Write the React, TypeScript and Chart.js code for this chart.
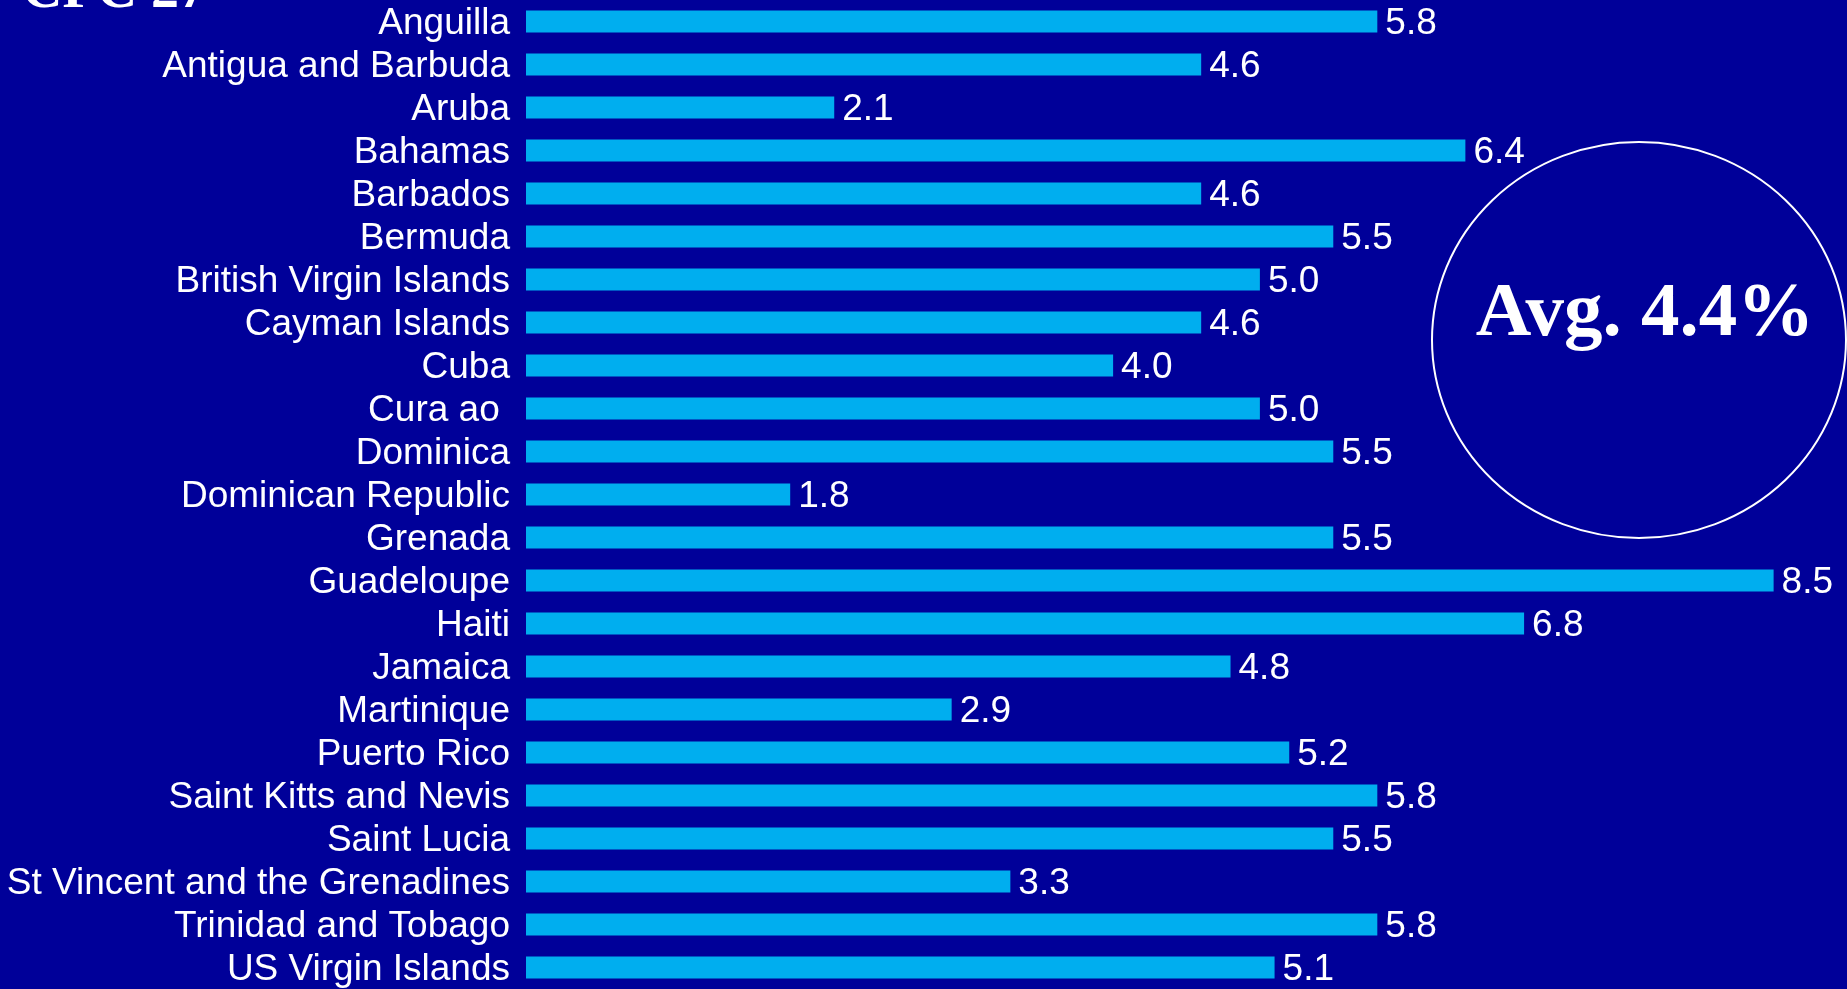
import React, { useEffect, useRef } from "react";
import { Chart, registerables } from "chart.js";

Chart.register(...registerables);

const countries = [
  "Anguilla",
  "Antigua and Barbuda",
  "Aruba",
  "Bahamas",
  "Barbados",
  "Bermuda",
  "British Virgin Islands",
  "Cayman Islands",
  "Cuba",
  "Cura ao ",
  "Dominica",
  "Dominican Republic",
  "Grenada",
  "Guadeloupe",
  "Haiti",
  "Jamaica",
  "Martinique",
  "Puerto Rico",
  "Saint Kitts and Nevis",
  "Saint Lucia",
  "St Vincent and the Grenadines",
  "Trinidad and Tobago",
  "US Virgin Islands",
];

const values = [5.8, 4.6, 2.1, 6.4, 4.6, 5.5, 5.0, 4.6, 4.0, 5.0, 5.5, 1.8, 5.5, 8.5, 6.8, 4.8, 2.9, 5.2, 5.8, 5.5, 3.3, 5.8, 5.1];

const titleText = "CPC 27";
const avgText = "Avg. 4.4%";

const BG = "#000099";
const BAR = "#00AEEF";
const LABEL_FONT = "37px 'Liberation Sans', Arial, sans-serif";

const decorPlugin = {
  id: "decor",
  beforeDraw(chart: any) {
    const { ctx, width, height } = chart;
    ctx.save();
    ctx.fillStyle = BG;
    ctx.fillRect(0, 0, width, height);
    ctx.restore();
  },
  afterDatasetsDraw(chart: any) {
    const { ctx } = chart;
    const meta = chart.getDatasetMeta(0);
    const yScale = chart.scales.y;
    ctx.save();
    ctx.font = LABEL_FONT;
    ctx.fillStyle = "#ffffff";
    ctx.textBaseline = "alphabetic";
    // category labels
    ctx.textAlign = "right";
    countries.forEach((c, i) => {
      const y = yScale.getPixelForValue(i);
      ctx.fillText(c, yScale.right - 16, y + 12);
    });
    // value labels
    ctx.textAlign = "left";
    meta.data.forEach((bar: any, i: number) => {
      ctx.fillText(values[i].toFixed(1), bar.x + 8, bar.y + 12);
    });
    // average ellipse
    ctx.strokeStyle = "#ffffff";
    ctx.lineWidth = 2;
    ctx.beginPath();
    ctx.ellipse(1639, 340, 207, 198, 0, 0, Math.PI * 2);
    ctx.stroke();
    ctx.font = "bold 77px 'Liberation Serif', 'Times New Roman', serif";
    ctx.textAlign = "center";
    ctx.fillText(avgText, 1645, 335);
    // cut-off title
    ctx.font = "bold 56px 'Liberation Serif', 'Times New Roman', serif";
    ctx.textAlign = "left";
    ctx.fillText(titleText, 22, 7);
    ctx.restore();
  },
};

export default function App() {
  const ref = useRef<HTMLCanvasElement | null>(null);
  useEffect(() => {
    if (!ref.current) return;
    const chart = new Chart(ref.current, {
      type: "bar",
      data: {
        labels: countries,
        datasets: [
          {
            data: values,
            backgroundColor: BAR,
            borderWidth: 0,
            barPercentage: 0.51,
            categoryPercentage: 1,
          },
        ],
      },
      options: {
        indexAxis: "y",
        animation: false,
        responsive: true,
        maintainAspectRatio: false,
        layout: { padding: 0 },
        plugins: {
          legend: { display: false },
          tooltip: { enabled: false },
          title: { display: false },
        },
        scales: {
          x: {
            display: false,
            min: 0,
            max: 9,
          },
          y: {
            grid: { display: false },
            border: { display: false },
            ticks: { display: false, autoSkip: false },
            afterFit(scale: any) {
              scale.width = 526;
            },
          },
        },
      },
      plugins: [decorPlugin],
    });
    return () => chart.destroy();
  }, []);
  return (
    <div style={{ position: "fixed", left: 0, top: 0, width: 1847, height: 989, background: BG }}>
      <canvas ref={ref} />
    </div>
  );
}
